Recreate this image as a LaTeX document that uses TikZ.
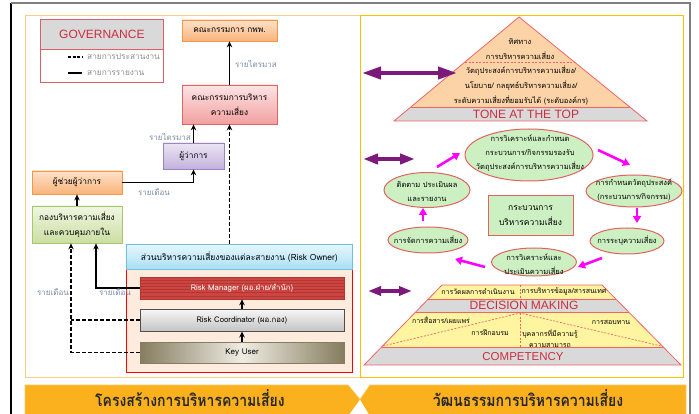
\documentclass[tikz,border=0pt]{standalone}
\usepackage{fontspec}
\usepackage{graphicx}
\setmainfont[Script=Thai]{Loma}
\newfontfamily\latfont{Liberation Sans}
\usetikzlibrary{arrows.meta,shapes.geometric,calc}
\definecolor{cFrame}{HTML}{7F7F7F}
\definecolor{cPanL}{HTML}{F9CF84}
\definecolor{cPanR}{HTML}{FFC000}
\definecolor{cLegLn}{HTML}{D9606A}
\definecolor{cGray}{HTML}{D9D9D9}
\definecolor{cRedT}{HTML}{CC2E3E}
\definecolor{cLbl}{HTML}{7A8BA6}
\definecolor{cLegT}{HTML}{8C8C8C}
\definecolor{cOrB}{HTML}{F79646}
\definecolor{cOrT}{HTML}{FDE2C8}
\definecolor{cOrBot}{HTML}{F9B47C}
\definecolor{cPkB}{HTML}{E06666}
\definecolor{cPkT}{HTML}{FCE4E4}
\definecolor{cPkBot}{HTML}{F2A0A0}
\definecolor{cLvB}{HTML}{9A85C2}
\definecolor{cLvT}{HTML}{ECE5F4}
\definecolor{cLvBot}{HTML}{C2B2DC}
\definecolor{cGrB}{HTML}{A8C66C}
\definecolor{cGrT}{HTML}{F0F6E2}
\definecolor{cGrBot}{HTML}{CBDEA2}
\definecolor{cPeach}{HTML}{FDEBDD}
\definecolor{cHdB}{HTML}{6CC0DA}
\definecolor{cHdT}{HTML}{E6F7FD}
\definecolor{cHdBot}{HTML}{A9DFF3}
\definecolor{cRM}{HTML}{CB4642}
\definecolor{cRMd}{HTML}{B53531}
\definecolor{cRcT}{HTML}{F7F7F7}
\definecolor{cRcBot}{HTML}{C4C4C4}
\definecolor{cRcB}{HTML}{4D4D4D}
\definecolor{cKuE}{HTML}{857D5F}
\definecolor{cKuM}{HTML}{EFECE3}
\definecolor{cTri}{HTML}{FBD3A6}
\definecolor{cTriLn}{HTML}{F06464}
\definecolor{cEll}{HTML}{CCF0C2}
\definecolor{cEllLn}{HTML}{E2625F}
\definecolor{cMag}{HTML}{FF00FF}
\definecolor{cPur}{HTML}{7B1A7B}
\definecolor{cYel}{HTML}{FFF5A0}
\definecolor{cBan}{HTML}{FBB01E}
\definecolor{cBanL}{HTML}{F9C65C}
\newcommand\myfs[2]{\fontsize{#1}{#2}\selectfont}
\begin{document}
\begin{tikzpicture}[x=1pt,y=-1pt,
  box/.style={draw, line width=0.8pt, align=center, inner sep=1pt, text=black, font=\myfs{8.3}{15}},
  lbl/.style={text=cLbl, font=\myfs{8}{9}, inner sep=0pt},
  legt/.style={text=cLegT, font=\myfs{8.3}{9}, inner sep=0pt, anchor=west},
  rep/.style={line width=1.8pt, -{Stealth[length=6pt,width=5.5pt]}},
  coordl/.style={line width=1.6pt, dash pattern=on 4pt off 2pt},
  coorda/.style={coordl, -{Stealth[length=6pt,width=5.5pt]}},
  ell/.style={ellipse, draw=cEllLn, line width=1pt, fill=cEll, inner sep=0pt},
  elltxt/.style={align=center, inner sep=0pt, font=\myfs{7.5}{14}, text=black},
  cyc/.style={draw=cMag, line width=2.6pt, -{Triangle[length=7pt,width=8pt]}},
  dbl/.style={draw=cPur, line width=4pt},
  tri/.style={align=center, inner sep=0pt, font=\myfs{7.5}{9}, text=black},
  big/.style={text=cRedT, inner sep=0pt, font=\latfont\myfs{12}{14}},
  ban/.style={inner sep=0pt, text=black!85, font=\bfseries\myfs{14}{16}}
]
\useasboundingbox (0,0) rectangle (699,414);
% outer frame and panels
\draw[black, line width=1.2pt] (11,3) -- (11,416);
\draw[cFrame, line width=1.6pt] (11,3) -- (690,3) -- (690,416);
\draw[cPanL, line width=1pt] (25,16) rectangle (360,377);
\draw[cPanR, line width=1pt] (360,16) rectangle (683,377);

% ---------------- left panel ----------------
\node[draw=cLegLn, line width=0.8pt, fill=white, minimum width=123pt, minimum height=63pt, anchor=north west, inner sep=0pt] (leg) at (40,19) {};
\node[draw=cLegLn, line width=0.8pt, fill=cGray, minimum width=123pt, minimum height=30pt, anchor=north west, inner sep=0pt, text=cRedT, font=\latfont\myfs{12}{14}] (legh) at (40,19) {GOVERNANCE};
\coordinate (la1) at (68,57); \coordinate (lb1) at (82,57);
\coordinate (la2) at (68,73); \coordinate (lb2) at (82,73);
\draw[line width=1.6pt, dash pattern=on 3pt off 1.5pt] (la1) -- (lb1);
\draw[line width=1.6pt] (la2) -- (lb2);
\node[legt] (lt1) at (87,57) {สายการประสานงาน};
\node[legt] (lt2) at (87,73) {สายการรายงาน};

\node[box, draw=cOrB, top color=cOrT, bottom color=cOrBot, minimum width=95pt, minimum height=21pt] (kpp) at (229.5,30.5) {คณะกรรมการ กพพ.};
\node[box, draw=cPkB, top color=cPkT, bottom color=cPkBot, minimum width=95pt, minimum height=39pt] (rmc) at (229.5,104.5) {คณะกรรมการบริหาร\\ความเสี่ยง};
\node[box, draw=cLvB, top color=cLvT, bottom color=cLvBot, minimum width=61pt, minimum height=26pt] (gov) at (193.5,156) {ผู้ว่าการ};
\node[box, draw=cOrB, top color=cOrT, bottom color=cOrBot, minimum width=90pt, minimum height=23pt] (asst) at (77,182.5) {ผู้ช่วยผู้ว่าการ};
\node[box, draw=cGrB, top color=cGrT, bottom color=cGrBot, minimum width=90pt, minimum height=37pt] (rmd) at (77,224.5) {กองบริหารความเสี่ยง\\และควบคุมภายใน};

\node[draw=red, line width=1.2pt, fill=cPeach, minimum width=226pt, minimum height=128pt, anchor=north west, inner sep=0pt] (ro) at (126,244) {};
\node[draw=cHdB, line width=0.6pt, top color=cHdT, bottom color=cHdBot, minimum width=226pt, minimum height=25pt, anchor=north west, inner sep=0pt, font=\myfs{8.5}{9}] (roh) at (126,244) {ส่วนบริหารความเสี่ยงของแต่ละสายงาน (Risk Owner)};
\node[draw=cRMd, line width=0.6pt, fill=cRM, minimum width=204pt, minimum height=22pt, inner sep=0pt, text=white, font=\myfs{7.8}{9},
  path picture={\foreach \k in {1,...,6}{\draw[cRMd,line width=0.6pt] ($(path picture bounding box.north west)!\k/7!(path picture bounding box.south west)$) -- ++(210,0);}}] (rm) at (242,288) {Risk Manager (ผอ.ฝ่าย/สำนัก)};
\node[draw=cRcB, line width=1pt, top color=cRcT, bottom color=cRcBot, minimum width=204pt, minimum height=22pt, inner sep=0pt, font=\myfs{7.8}{9}] (rc) at (242,320) {Risk Coordinator (ผอ.กอง)};
\node[draw=cKuE, line width=0.6pt, left color=cKuE, right color=cKuE, middle color=cKuM, minimum width=204pt, minimum height=21pt, inner sep=0pt, font=\myfs{8}{9}] (ku) at (242,352.5) {Key User};

% connectors
\draw[rep] (rmc.north) -- (kpp.south);
\draw[rep] (gov.north) -- (gov.north |- rmc.south);
\draw[coorda] (rmc.south |- roh.north) -- (rmc.south);
\draw[rep] (asst.east) -| (gov.south);
\draw[rep] (rmd.north) -- (asst.south);
\draw[rep] (rm.west) -| ($(rmd.south)+(19,0)$);
\coordinate (jn) at (71,320);
\draw[coordl] (rc.west) -- (jn);
\draw[coorda] (ku.west) -| ($(rmd.south)+(-6,0)$);
\draw[rep] (ku.north) -- (rc.south);
\draw[rep] (rc.north) -- (rm.south);

\node[lbl] (q1) at (256,64) {รายไตรมาส};
\node[lbl] (q2) at (170,137) {รายไตรมาส};
\node[lbl] (m1) at (154,192) {รายเดือน};
\node[lbl] (m2) at (53,292) {รายเดือน};
\node[lbl] (m3) at (115,292) {รายเดือน};

% ---------------- right panel ----------------
% tone at the top
\fill[cTri] (519,17) -- (647,121) -- (394,121) -- cycle;
\fill[cGray] (410.8,107) -- (629.8,107) -- (647,121) -- (394,121) -- cycle;
\draw[cTriLn, line width=0.8pt] (519,17) -- (647,121) -- (394,121) -- cycle;
\draw[cTriLn, line width=0.8pt] (410.8,107) -- (629.8,107);
\draw[cTriLn, line width=0.8pt, dash pattern=on 2pt off 1.5pt] (465,62) -- (574,62);
\node[tri] (t1) at (520,42) {ทิศทาง};
\node[tri] (t2) at (520,56) {การบริหารความเสี่ยง};
\node[tri] (t3) at (521,71) {วัตถุประสงค์การบริหารความเสี่ยง/};
\node[tri] (t4) at (521,86) {นโยบาย/ กลยุทธ์บริหารความเสี่ยง/};
\node[tri] (t5) at (521,100) {ระดับความเสี่ยงที่ยอมรับได้ (ระดับองค์กร)};
\node[big] (tone) at (526,114.5) {TONE AT THE TOP};

% purple double arrows
\coordinate (p1a) at (362,73); \coordinate (p1b) at (457,73);
\coordinate (p2a) at (363,159); \coordinate (p2b) at (415,159);
\coordinate (p3a) at (368,291); \coordinate (p3b) at (412,291);
\draw[dbl, {Triangle[length=19pt,width=12pt]}-{Triangle[length=19pt,width=12pt]}] (p1a) -- (p1b);
\draw[dbl, {Triangle[length=15pt,width=10pt]}-{Triangle[length=15pt,width=10pt]}] (p2a) -- (p2b);
\draw[dbl, line width=3.5pt, {Triangle[length=13pt,width=9pt]}-{Triangle[length=13pt,width=9pt]}] (p3a) -- (p3b);

% cycle
\node[ell, minimum width=128pt, minimum height=52pt] (e1) at (529,155) {};
\node[ell, minimum width=96pt, minimum height=32pt] (e2) at (634,191) {};
\node[ell, minimum width=74pt, minimum height=26pt] (e3) at (627,241) {};
\node[ell, minimum width=85pt, minimum height=28pt] (e4) at (534,262) {};
\node[ell, minimum width=80pt, minimum height=26pt] (e5) at (428,240) {};
\node[ell, minimum width=86pt, minimum height=35pt] (e6) at (427,190) {};
\node[elltxt] (e1t) at (530,153) {การวิเคราะห์และกำหนด\\กระบวนการ/กิจกรรมรองรับ\\วัตถุประสงค์การบริหารความเสี่ยง};
\node[elltxt] (e2t) at (634,190) {การกำหนดวัตถุประสงค์\\(กระบวนการ/กิจกรรม)};
\node[elltxt] (e3t) at (627,241) {การระบุความเสี่ยง};
\node[elltxt] (e4t) at (534,264) {การวิเคราะห์และ\\ประเมินความเสี่ยง};
\node[elltxt] (e5t) at (428,240) {การจัดการความเสี่ยง};
\node[elltxt] (e6t) at (427,192) {ติดตาม ประเมินผล\\และรายงาน};
\node[box, draw=cEllLn, line width=1pt, fill=cEll, minimum width=85pt, minimum height=40pt, font=\myfs{8.5}{15}] (ctr) at (530.5,216) {กระบวนการ\\บริหารความเสี่ยง};

\draw[cyc] ($(e6)+(10,-23)$) -- ($(e1)+(-69,-2)$);
\draw[cyc] ($(e1)+(69,-5)$) -- ($(e2)+(-4,-26)$);
\draw[cyc] ($(e2)+(3,17)$) -- ($(e3)+(10,-18)$);
\draw[cyc] ($(e3)+(-25,17)$) -- ($(e4)+(44,5)$);
\draw[cyc] ($(e4)+(-49,5)$) -- ($(e5)+(27,19)$);
\draw[cyc] ($(e5)+(-5,-19)$) -- ($(e6)+(-4,18)$);

% decision making / competency
\fill[cYel] (442,285) -- (602,285) -- (615.7,299) -- (428.3,299) -- cycle;
\fill[cGray] (428.3,299) -- (615.7,299) -- (628.5,312) -- (415.6,312) -- cycle;
\fill[cYel] (415.6,312) -- (628.5,312) -- (663,347) -- (381.5,347) -- cycle;
\fill[cGray] (381.5,347) -- (663,347) -- (681,365) -- (364,365) -- cycle;
\draw[cTriLn, line width=0.8pt] (442,285) -- (602,285) -- (681,365) -- (364,365) -- cycle;
\draw[cTriLn, line width=0.8pt] (428.3,299) -- (615.7,299);
\draw[cTriLn, line width=0.8pt] (415.6,312) -- (628.5,312);
\draw[cTriLn, line width=0.8pt] (381.5,347) -- (663,347);
\draw[cTriLn, line width=0.7pt, dash pattern=on 2pt off 1.5pt] (520,285) -- (520,299);
\draw[cTriLn, line width=0.7pt, dash pattern=on 2pt off 1.5pt] (383,346) -- (520,313) -- (661,346);
\draw[cTriLn, line width=0.7pt, dash pattern=on 2pt off 1.5pt] (520,313) -- (520,347);
\node[tri, font=\myfs{7}{9}] (d1) at (478,291.5) {การวัดผลการดำเนินงาน};
\node[tri, font=\myfs{7}{9}] (d2) at (564,291.5) {การบริหารข้อมูล/สารสนเทศ};
\node[big] (dm) at (524,305.5) {DECISION MAKING};
\node[tri, font=\myfs{7}{9}] (c1) at (441,320) {การสื่อสาร/เผยแพร่};
\node[tri, font=\myfs{7}{9}] (c2) at (611,322) {การสอบทาน};
\node[tri, font=\myfs{7}{9}] (c3) at (490,333) {การฝึกอบรม};
\node[tri, font=\myfs{7}{11}] (c4) at (550,338) {บุคลากรที่มีความรู้\\ความสามารถ};
\node[big, font=\latfont\myfs{11.5}{14}] (cp) at (523,357) {COMPETENCY};

% ---------------- bottom banners ----------------
\fill[cBan] (25,385) -- (348,385) -- (360,399.5) -- (348,416) -- (25,416) -- cycle;
\fill[cBan] (370,385) -- (686,385) -- (686,416) -- (370,416) -- (360,399.5) -- cycle;
\draw[cBanL, line width=0.8pt] (25,416) -- (25,385) -- (348,385) -- (360,399.5);
\draw[cBanL, line width=0.8pt] (360,399.5) -- (370,385) -- (686,385) -- (686,416);
\node[ban] (b1) at (190,398.5) {\scalebox{1}[1.18]{โครงสร้างการบริหารความเสี่ยง}};
\node[ban] (b2) at (528,398.5) {\scalebox{1}[1.18]{วัฒนธรรมการบริหารความเสี่ยง}};
\end{tikzpicture}
\end{document}
